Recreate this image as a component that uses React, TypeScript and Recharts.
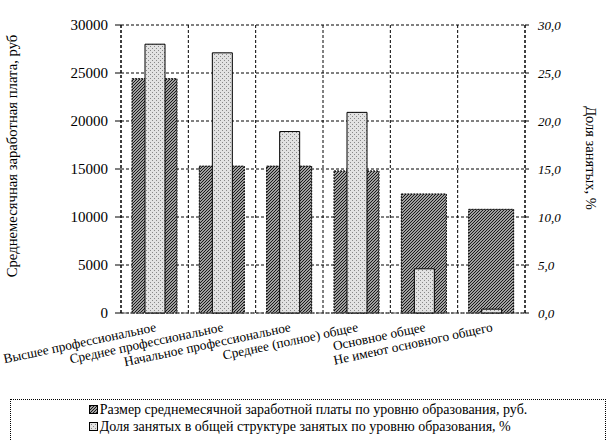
import { BarChart, Bar, XAxis, YAxis, CartesianGrid, Legend, Label } from 'recharts'

const levels = [
    'Высшее профессиональное',
    'Среднее профессиональное',
    'Начальное профессиональное',
    'Среднее (полное) общее',
    'Основное общее',
    'Не имеют основного общего'
]
const salary = [24400, 15300, 15300, 14800, 12400, 10800]
const share = [28.0, 27.1, 18.9, 20.9, 4.6, 0.4]
const salaryTicks = [0, 5000, 10000, 15000, 20000, 25000, 30000]
const shareTicks = [0, 5, 10, 15, 20, 25, 30]
const salaryName = 'Размер среднемесячной заработной платы по уровню образования, руб.'
const shareName = 'Доля занятых в общей структуре занятых по уровню образования, %'
const leftTitle = 'Среднемесячная заработная плата, руб'
const rightTitle = 'Доля занятых, %'

const serif = '"Liberation Serif", "DejaVu Serif", "Noto Serif", serif'

const data = levels.map((level, i) => ({ level, salary: salary[i], share: share[i] }))

const CategoryTick = ({ x, y, payload }: any) => (
    <g transform={`translate(${x + 2},${y + 18}) rotate(-12)`}>
        <text x={0} y={0} textAnchor="end" style={{ fontFamily: serif }} fontSize={13.3} fill="#000">
            {payload.value}
        </text>
    </g>
)

const LeftTitle = ({ viewBox }: any) => {
    const cx = viewBox.x + 17
    const cy = viewBox.y + viewBox.height / 2 - 13
    return (
        <text x={cx} y={cy} transform={`rotate(-90, ${cx}, ${cy})`} textAnchor="middle"
            style={{ fontFamily: serif }} fontSize={14.7} fill="#000">{leftTitle}</text>
    )
}

const RightTitle = ({ viewBox }: any) => {
    const cx = viewBox.x + 61
    const cy = viewBox.y + viewBox.height / 2 - 11
    return (
        <text x={cx} y={cy} transform={`rotate(90, ${cx}, ${cy})`} textAnchor="middle"
            style={{ fontFamily: serif }} fontSize={14.5} fill="#000">{rightTitle}</text>
    )
}

const LegendBox = () => (
    <div style={{ border: '1px dotted #000', borderBottom: 'none', height: 44, fontFamily: serif, fontSize: 14 }}>
        <div style={{ display: 'flex', flexDirection: 'column', alignItems: 'center', paddingTop: 1 }}>
            <div style={{ display: 'flex', flexDirection: 'column', alignItems: 'flex-start' }}>
                {[{ name: salaryName, fill: 'url(#hatch)' }, { name: shareName, fill: 'url(#dots)' }].map(item => (
                    <div key={item.name} style={{ display: 'flex', alignItems: 'center', height: 17 }}>
                        <svg width={9} height={9} style={{ marginRight: 2 }}>
                            <rect x={0.5} y={0.5} width={8} height={8} fill={item.fill} stroke="#000" />
                        </svg>
                        <span>{item.name}</span>
                    </div>
                ))}
            </div>
        </div>
    </div>
)

export default function App() {
    return (
        <div style={{ position: 'absolute', left: 0, top: 0, width: 614, height: 441, overflow: 'hidden', background: '#fff', fontFamily: serif }}>
            <BarChart width={614} height={441} data={data} margin={{ top: 25, right: 0, bottom: 48, left: 0 }}>
                <defs>
                    <pattern id="hatch" patternUnits="userSpaceOnUse" width={3} height={3}>
                        <rect width={3} height={3} fill="#a0a0a0" />
                        <path d="M0,3 L3,0 M-1,1 L1,-1 M2,4 L4,2" stroke="#1a1a1a" strokeWidth={1} />
                    </pattern>
                    <pattern id="dots" patternUnits="userSpaceOnUse" width={4} height={4}>
                        <rect width={4} height={4} fill="#e2e2e2" />
                        <rect x={0} y={0} width={1} height={1} fill="#888" />
                        <rect x={2} y={2} width={1} height={1} fill="#888" />
                    </pattern>
                </defs>
                <CartesianGrid
                    xAxisId="wide"
                    yAxisId="left"
                    stroke="#000"
                    strokeDasharray="3 2"
                    verticalCoordinatesGenerator={({ offset }: any) =>
                        levels.map((_, i) => offset.left + (offset.width * i) / levels.length).concat(offset.left + offset.width)
                    }
                />
                <XAxis
                    xAxisId="wide"
                    dataKey="level"
                    height={80}
                    interval={0}
                    tickLine={false}
                    tickSize={0}
                    tickMargin={0}
                    tick={<CategoryTick />}
                    axisLine={{ stroke: '#555', strokeDasharray: '2 1' }}
                />
                <XAxis xAxisId="narrow" dataKey="level" hide height={0} />
                <YAxis
                    yAxisId="left"
                    width={121}
                    domain={[0, 30000]}
                    ticks={salaryTicks}
                    interval={0}
                    tickSize={6}
                    tickMargin={7}
                    tick={{ fontFamily: serif, fontSize: 15, fill: '#000' }}
                    tickLine={{ stroke: '#000' }}
                    axisLine={{ stroke: '#000', strokeDasharray: '3 2' }}
                >
                    <Label content={<LeftTitle />} />
                </YAxis>
                <YAxis
                    yAxisId="right"
                    orientation="right"
                    width={89}
                    domain={[0, 30]}
                    ticks={shareTicks}
                    interval={0}
                    tickSize={4}
                    tickMargin={9}
                    tickFormatter={(v: number) => v.toFixed(1).replace('.', ',')}
                    tick={{ fontFamily: serif, fontSize: 13, fontStyle: 'italic', fill: '#000' }}
                    tickLine={{ stroke: '#000' }}
                    axisLine={{ stroke: '#000', strokeDasharray: '3 2' }}
                >
                    <Label content={<RightTitle />} />
                </YAxis>
                <Bar
                    xAxisId="wide"
                    yAxisId="left"
                    dataKey="salary"
                    name={salaryName}
                    barSize={45}
                    fill="url(#hatch)"
                    stroke="#000"
                    strokeDasharray="2 1"
                    isAnimationActive={false}
                />
                <Bar
                    xAxisId="narrow"
                    yAxisId="right"
                    dataKey="share"
                    name={shareName}
                    barSize={20}
                    fill="url(#dots)"
                    stroke="#000"
                    isAnimationActive={false}
                />
                <Legend
                    layout="horizontal"
                    verticalAlign="middle"
                    content={<LegendBox />}
                    wrapperStyle={{ position: 'absolute', left: 10, top: 399, width: 596, height: 44 }}
                />
            </BarChart>
        </div>
    )
}
